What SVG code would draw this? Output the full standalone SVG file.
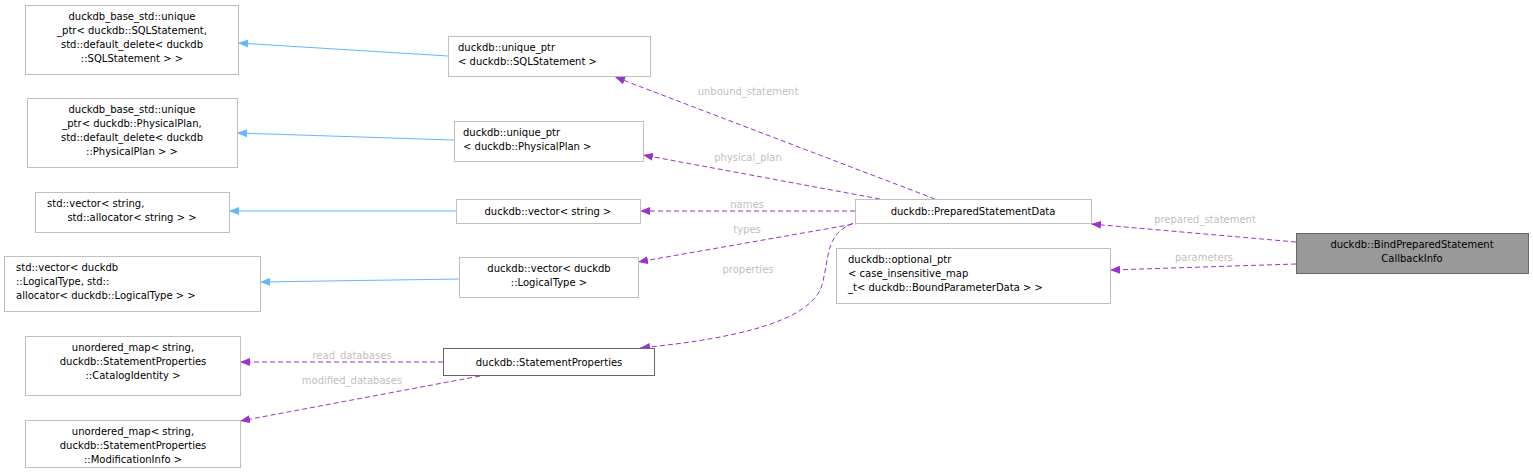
<svg xmlns="http://www.w3.org/2000/svg" width="1533" height="474" viewBox="0 0 1533 474">
<style>
text{font-family:"DejaVu Sans",sans-serif;font-size:10px;fill:#000}
.n{fill:#fff;stroke:#bfbfbf}
.m{text-anchor:middle}
.l{fill:#bfbfbf;text-anchor:middle;font-size:10px}
.b{fill:none;stroke:#63b8ff}
.p{fill:none;stroke:#9a32cd;stroke-dasharray:5,3}
</style>
<defs>
<marker id="ab" markerWidth="10" markerHeight="8" refX="10" refY="4" orient="auto" markerUnits="userSpaceOnUse"><path d="M10,4 L0,0 L0,8Z" fill="#63b8ff"/></marker>
<marker id="ap" markerWidth="10" markerHeight="8" refX="10" refY="4" orient="auto" markerUnits="userSpaceOnUse"><path d="M10,4 L0,0 L0,8Z" fill="#9a32cd"/></marker>
</defs>
<rect width="1533" height="474" fill="#fff"/>
<g id="edges">
<path class="b" d="M448,56 L238,43" marker-end="url(#ab)"/>
<path class="b" d="M454,140 L237,133" marker-end="url(#ab)"/>
<path class="b" d="M456,211 L229,211" marker-end="url(#ab)"/>
<path class="b" d="M459,279 L260,282" marker-end="url(#ab)"/>
<path class="p" d="M935,199 L615,77" marker-end="url(#ap)"/>
<path class="p" d="M880,199 L643,155" marker-end="url(#ap)"/>
<path class="p" d="M855,211 L640,211" marker-end="url(#ap)"/>
<path class="p" d="M860,223 L638,262" marker-end="url(#ap)"/>
<path class="p" d="M853,223 C825,235 830,255 822,285 C810,325 720,340 640,348" marker-end="url(#ap)"/>
<path class="p" d="M443,362 L240,362" marker-end="url(#ap)"/>
<path class="p" d="M480,376 L240,421" marker-end="url(#ap)"/>
<path class="p" d="M1296,242 L1091,224" marker-end="url(#ap)"/>
<path class="p" d="M1296,264 L1110,270" marker-end="url(#ap)"/>
<text class="l" x="748" y="95">unbound_statement</text>
<text class="l" x="748" y="161">physical_plan</text>
<text class="l" x="747" y="208">names</text>
<text class="l" x="747" y="233">types</text>
<text class="l" x="748" y="273">properties</text>
<text class="l" x="352" y="359">read_databases</text>
<text class="l" x="352" y="384">modified_databases</text>
<text class="l" x="1205" y="223">prepared_statement</text>
<text class="l" x="1204" y="261">parameters</text>
</g>
<g id="n1"><rect class="n" x="25.5" y="5.5" width="213" height="69"/><text class="m" x="132" y="20">duckdb_base_std::unique</text><text class="m" x="132" y="34">_ptr&lt; duckdb::SQLStatement,</text><text class="m" x="132" y="48">std::default_delete&lt; duckdb</text><text class="m" x="132" y="62">::SQLStatement &gt; &gt;</text></g>
<g id="n2"><rect class="n" x="448.5" y="36.5" width="202" height="40"/><text x="458" y="51">duckdb::unique_ptr</text><text x="458" y="65">&lt; duckdb::SQLStatement &gt;</text></g>
<g id="n3"><rect class="n" x="27.5" y="98.5" width="210" height="69"/><text class="m" x="132" y="113">duckdb_base_std::unique</text><text class="m" x="132" y="127">_ptr&lt; duckdb::PhysicalPlan,</text><text class="m" x="132" y="141">std::default_delete&lt; duckdb</text><text class="m" x="132" y="155">::PhysicalPlan &gt; &gt;</text></g>
<g id="n4"><rect class="n" x="454.5" y="121.5" width="189" height="40"/><text x="463" y="136">duckdb::unique_ptr</text><text x="463" y="150">&lt; duckdb::PhysicalPlan &gt;</text></g>
<g id="n5"><rect class="n" x="35.5" y="192.5" width="194" height="40"/><text x="47" y="207">std::vector&lt; string,</text><text class="m" x="132" y="221">std::allocator&lt; string &gt; &gt;</text></g>
<g id="n6"><rect class="n" x="456.5" y="199.5" width="184" height="24"/><text class="m" x="548" y="215">duckdb::vector&lt; string &gt;</text></g>
<g id="n7"><rect class="n" x="4.5" y="256.5" width="256" height="55"/><text x="16" y="271">std::vector&lt; duckdb</text><text x="16" y="285">::LogicalType, std::</text><text x="16" y="299">allocator&lt; duckdb::LogicalType &gt; &gt;</text></g>
<g id="n8"><rect class="n" x="459.5" y="257.5" width="179" height="40"/><text class="m" x="549" y="272">duckdb::vector&lt; duckdb</text><text class="m" x="549" y="286">::LogicalType &gt;</text></g>
<g id="n9"><rect class="n" x="25.5" y="336.5" width="215" height="59"/><text class="m" x="133" y="351">unordered_map&lt; string,</text><text class="m" x="133" y="365">duckdb::StatementProperties</text><text class="m" x="133" y="379">::CatalogIdentity &gt;</text></g>
<g id="n10"><rect x="443.5" y="348.5" width="211" height="27" fill="#fff" stroke="#666"/><text class="m" x="549" y="366">duckdb::StatementProperties</text></g>
<g id="n11"><rect class="n" x="25.5" y="420.5" width="215" height="47"/><text class="m" x="133" y="435">unordered_map&lt; string,</text><text class="m" x="133" y="449">duckdb::StatementProperties</text><text class="m" x="133" y="463">::ModificationInfo &gt;</text></g>
<g id="n12"><rect class="n" x="855.5" y="199.5" width="236" height="24"/><text class="m" x="973" y="215">duckdb::PreparedStatementData</text></g>
<g id="n13"><rect class="n" x="836.5" y="248.5" width="274" height="55"/><text x="848" y="263">duckdb::optional_ptr</text><text x="848" y="277">&lt; case_insensitive_map</text><text x="848" y="291">_t&lt; duckdb::BoundParameterData &gt; &gt;</text></g>
<g id="n14"><rect x="1296.5" y="233.5" width="232" height="40" fill="#999" stroke="#666"/><text class="m" x="1412" y="248">duckdb::BindPreparedStatement</text><text class="m" x="1412" y="262">CallbackInfo</text></g>
</svg>
